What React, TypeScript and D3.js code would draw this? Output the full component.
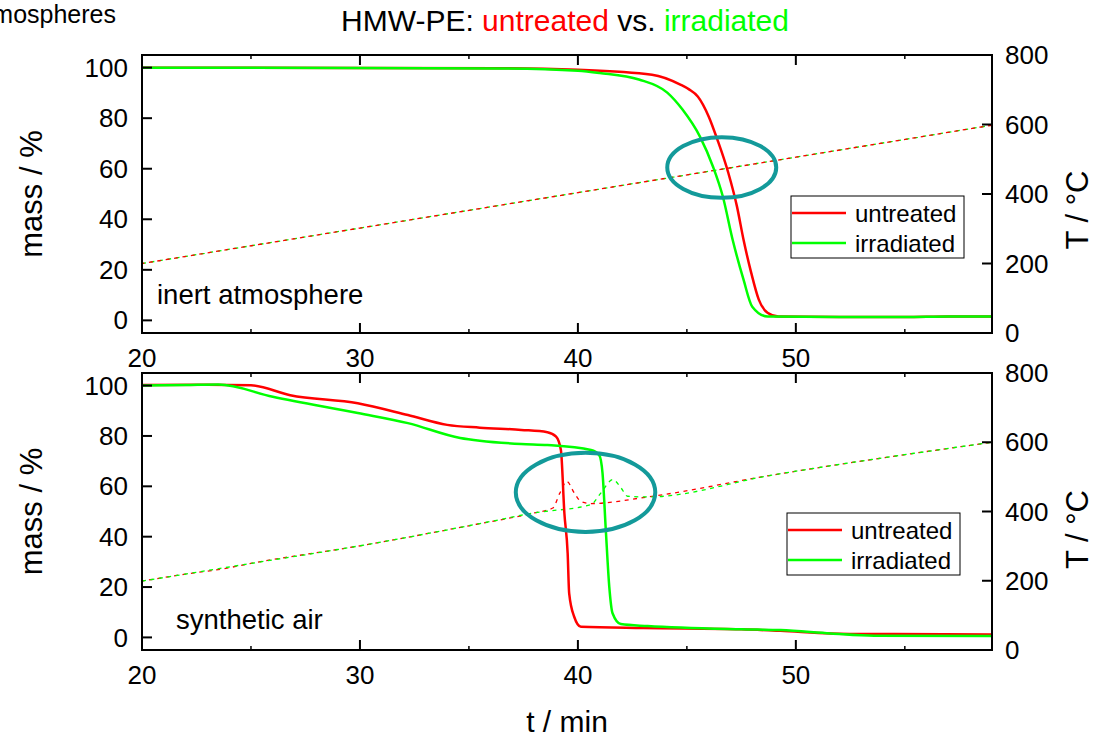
import * as d3 from "d3";

// axes
const xTicks = [20, 30, 40, 50];
const xMinorTicks = [25, 35, 45, 55];
const massTicks = [0, 20, 40, 60, 80, 100];
const tempTicks = [0, 200, 400, 600, 800];

// inert atmosphere, mass / %
const inertUntreatedTime = [20, 30, 36.4, 40, 43.4, 44.7, 45.1, 45.5, 46.0, 46.4, 46.9, 47.3, 47.6, 47.95, 48.3, 48.7, 49.2, 52, 55, 57, 59];
const inertUntreatedMass = [100, 99.9, 99.8, 99.2, 97.2, 93.3, 91.4, 88.6, 80.7, 71.5, 58.4, 45, 31.9, 18.9, 8.2, 3, 1.5, 1.3, 1.3, 1.5, 1.5];
const inertIrradiatedTime = [20, 30, 36.4, 40, 41, 42.8, 44.1, 44.8, 45.6, 46.2, 46.65, 47.1, 47.6, 48.0, 48.7, 52, 55, 57, 59];
const inertIrradiatedMass = [100, 99.9, 99.7, 98.8, 97.9, 95.3, 90.1, 83.4, 72.7, 60.8, 49, 31.9, 16.1, 5.4, 1.5, 1.3, 1.3, 1.5, 1.5];

// inert atmosphere, T / °C
const inertTempTime = [20, 30, 40, 50, 59];
const inertUntreatedTemp = [200, 302, 404, 506, 598];
const inertIrradiatedTemp = [200, 302, 404, 506, 598];

// synthetic air, mass / %
const airUntreatedTime = [20, 23, 25, 26.8, 29.9, 32.2, 34, 35.5, 37.4, 38.6, 39.0, 39.22, 39.38, 39.53, 39.6, 39.83, 40.14, 43, 47.5, 49.3, 51.6, 53.6, 59];
const airUntreatedMass = [100.2, 100.3, 100.1, 96.2, 93.0, 88.3, 84.4, 83.3, 82.4, 81.5, 79.7, 74.4, 49.3, 33.4, 17.5, 8.2, 4.2, 3.7, 3.2, 2.6, 1.6, 1.35, 1.2];
const airIrradiatedTime = [20, 22, 23.5, 26, 29.9, 32.2, 34.6, 35.5, 37.4, 38.6, 40.6, 40.98, 41.13, 41.28, 41.44, 41.59, 41.97, 43.2, 47.5, 49.3, 51.6, 53.6, 59];
const airIrradiatedMass = [100, 100.2, 100.4, 95.6, 89.1, 85.1, 79.2, 78.1, 76.8, 76.4, 74.4, 72.4, 65.2, 42.7, 20.1, 9.6, 5.3, 4.5, 3.2, 2.9, 1.6, 0.7, 0.6];

// synthetic air, T / °C
const airUntreatedTempTime = [20, 22.4, 23.6, 24.9, 30, 35.5, 38, 38.85, 39.17, 39.49, 39.83, 40.14, 40.6, 43.2, 48.9, 59];
const airUntreatedTemp = [199, 223, 233, 249, 301, 365, 396, 410, 453, 487, 454, 429, 423, 442, 505, 600];
const airIrradiatedTempTime = [20, 25, 30, 35.5, 38, 40.6, 41.06, 41.6, 41.98, 42.28, 43.2, 48.9, 59];
const airIrradiatedTemp = [199, 250, 301, 365, 396, 420, 454, 492, 468, 444, 442, 505, 600];

const RED = "#ff0000";
const GREEN = "#00ff00";
const TEAL = "#139a9a";
const FONT = "'Liberation Sans', Arial, Helvetica, sans-serif";

const W = 1095, H = 740;
const left = 142, right = 992;
const x = d3.scaleLinear().domain([20, 59]).range([left, right]);

const zip = (t: number[], v: number[]) => t.map((d, i) => [d, v[i]] as [number, number]);

function Panel({ top, bottom, mass, temp, greenOnTop, label, labelX, labelDy, legendX, legendDy, ellipse, titleYT }: any) {
  const y = d3.scaleLinear().domain([-5, 105]).range([bottom, top]);
  const yT = d3.scaleLinear().domain([0, 800]).range([bottom, top]);
  const massLine = d3.line<[number, number]>().x(d => x(d[0])).y(d => y(d[1])).curve(d3.curveMonotoneX);
  const tempLine = d3.line<[number, number]>().x(d => x(d[0])).y(d => yT(d[1])).curve(d3.curveMonotoneX);
  const ly = top + legendDy;
  const cx = x(ellipse[0]), cy = y(ellipse[1]);
  const rx = x(ellipse[0] + ellipse[2]) - cx, ry = cy - y(ellipse[1] + ellipse[3]);
  const mid = (top + bottom) / 2;
  const redT = <path d={tempLine(temp[0]) || ""} fill="none" stroke={RED} strokeWidth={1.3} strokeDasharray="4,4.5" strokeDashoffset={1.5} />;
  const greenT = <path d={tempLine(temp[1]) || ""} fill="none" stroke={GREEN} strokeWidth={1.3} strokeDasharray="4,4.5" />;
  return (
    <g>
      {/* temperature, dashed */}
      {greenOnTop ? redT : greenT}
      {greenOnTop ? greenT : redT}
      {/* mass */}
      <path d={massLine(mass[0]) || ""} fill="none" stroke={RED} strokeWidth={2.5} />
      <path d={massLine(mass[1]) || ""} fill="none" stroke={GREEN} strokeWidth={2.5} />

      <ellipse cx={cx} cy={cy} rx={rx} ry={ry} fill="none" stroke={TEAL} strokeWidth={4} />

      {/* legend */}
      <rect x={legendX} y={ly} width={173} height={62} fill="white" stroke="black" strokeWidth={1} />
      <line x1={legendX + 1} x2={legendX + 55} y1={ly + 17} y2={ly + 17} stroke={RED} strokeWidth={2.5} />
      <line x1={legendX + 1} x2={legendX + 55} y1={ly + 47} y2={ly + 47} stroke={GREEN} strokeWidth={2.5} />
      <text x={legendX + 64} y={ly + 26} fontSize={24}>untreated</text>
      <text x={legendX + 64} y={ly + 56} fontSize={24}>irradiated</text>

      <text x={labelX} y={bottom - labelDy} fontSize={27.5}>{label}</text>

      {/* frame */}
      <rect x={left} y={top} width={right - left} height={bottom - top} fill="none" stroke="black" strokeWidth={2} />

      {xTicks.map(t => (
        <g key={t}>
          <line x1={x(t)} x2={x(t)} y1={bottom} y2={bottom - 10} stroke="black" strokeWidth={2} />
          <line x1={x(t)} x2={x(t)} y1={top} y2={top + 10} stroke="black" strokeWidth={2} />
          <text x={x(t)} y={bottom + 34} fontSize={26} textAnchor="middle">{t}</text>
        </g>
      ))}
      {xMinorTicks.map(t => (
        <g key={t}>
          <line x1={x(t)} x2={x(t)} y1={bottom} y2={bottom - 4} stroke="black" strokeWidth={1.5} />
          <line x1={x(t)} x2={x(t)} y1={top} y2={top + 4} stroke="black" strokeWidth={1.5} />
        </g>
      ))}
      {massTicks.map(m => (
        <g key={m}>
          <line x1={left} x2={left + 10} y1={y(m)} y2={y(m)} stroke="black" strokeWidth={2} />
          <text x={left - 14} y={y(m)} dy="0.35em" fontSize={26} textAnchor="end">{m}</text>
        </g>
      ))}
      {tempTicks.map(v => (
        <g key={v}>
          <line x1={right} x2={right - 10} y1={yT(v)} y2={yT(v)} stroke="black" strokeWidth={2} />
          <text x={right + 13} y={yT(v)} dy="0.35em" fontSize={26}>{v}</text>
        </g>
      ))}

      <text transform={`translate(42,${mid}) rotate(-90)`} fontSize={31} textAnchor="middle">mass / %</text>
      <text transform={`translate(1088,${mid + titleYT}) rotate(-90)`} fontSize={31} textAnchor="middle">T / °C</text>
    </g>
  );
}

export default function App() {
  return (
    <svg width={W} height={H} style={{ position: "absolute", left: 0, top: 0, background: "white" }} fontFamily={FONT}>
      <rect width={W} height={H} fill="white" />
      <text x={116} y={23} fontSize={25} textAnchor="end">atmospheres</text>
      <text x={565} y={31} fontSize={30} textAnchor="middle">
        HMW-PE: <tspan fill={RED}>untreated</tspan> vs. <tspan fill={GREEN}>irradiated</tspan>
      </text>

      <Panel
        top={55} bottom={333}
        mass={[zip(inertUntreatedTime, inertUntreatedMass), zip(inertIrradiatedTime, inertIrradiatedMass)]}
        temp={[zip(inertTempTime, inertUntreatedTemp), zip(inertTempTime, inertIrradiatedTemp)]}
        greenOnTop={false}
        label="inert atmosphere" labelX={157} labelDy={29}
        legendX={791} legendDy={141}
        ellipse={[46.6, 60.5, 2.5, 12]}
        titleYT={16}
      />
      <Panel
        top={373} bottom={650}
        mass={[zip(airUntreatedTime, airUntreatedMass), zip(airIrradiatedTime, airIrradiatedMass)]}
        temp={[zip(airUntreatedTempTime, airUntreatedTemp), zip(airIrradiatedTempTime, airIrradiatedTemp)]}
        greenOnTop={true}
        label="synthetic air" labelX={176} labelDy={21}
        legendX={787} legendDy={140}
        ellipse={[40.35, 57.6, 3.2, 15.7]}
        titleYT={18}
      />

      <text x={567} y={732} fontSize={30} textAnchor="middle">t / min</text>
    </svg>
  );
}
